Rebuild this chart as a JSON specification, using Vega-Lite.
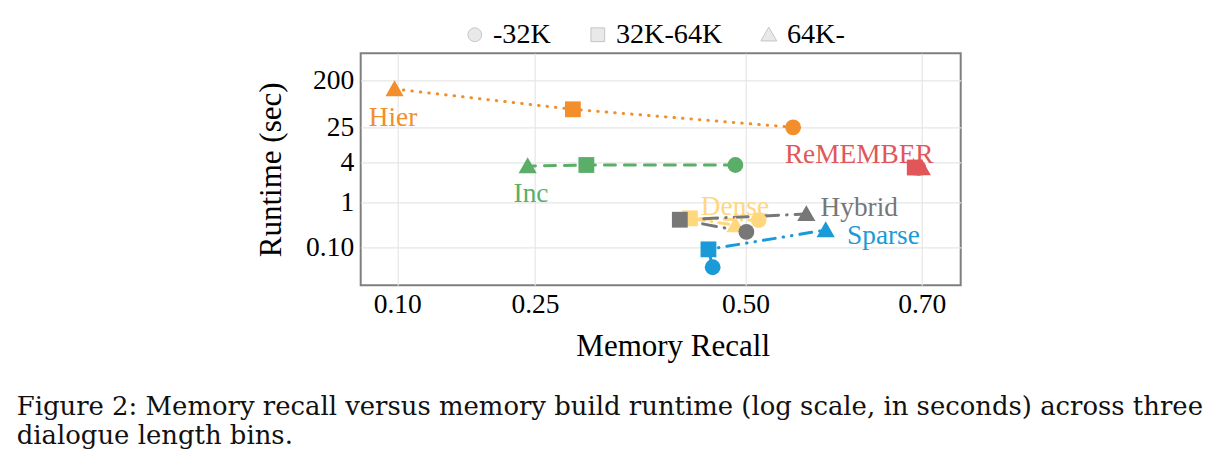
{
  "$schema": "https://vega.github.io/schema/vega-lite/v6.json",
  "width": 600,
  "height": 232,
  "autosize": {"type": "none"},
  "padding": {"left": 360.7, "top": 53.3, "right": 258.3, "bottom": 185.7},
  "background": "white",
  "datasets": {
    "points": [
      {"method": "Hier", "bin": "-32K", "recall": 0.554, "runtime": 25.0},
      {"method": "Hier", "bin": "32K-64K", "recall": 0.295, "runtime": 55.8},
      {"method": "Hier", "bin": "64K-", "recall": 0.097, "runtime": 138},
      {"method": "Inc", "bin": "-32K", "recall": 0.488, "runtime": 3.69},
      {"method": "Inc", "bin": "32K-64K", "recall": 0.311, "runtime": 3.69},
      {"method": "Inc", "bin": "64K-", "recall": 0.242, "runtime": 3.56},
      {"method": "ReMEMBER", "bin": "-32K", "recall": 0.696, "runtime": 3.35},
      {"method": "ReMEMBER", "bin": "32K-64K", "recall": 0.692, "runtime": 3.38},
      {"method": "ReMEMBER", "bin": "64K-", "recall": 0.700, "runtime": 3.32},
      {"method": "Dense", "bin": "-32K", "recall": 0.515, "runtime": 0.40},
      {"method": "Dense", "bin": "32K-64K", "recall": 0.434, "runtime": 0.44},
      {"method": "Dense", "bin": "64K-", "recall": 0.488, "runtime": 0.31},
      {"method": "Hybrid", "bin": "-32K", "recall": 0.501, "runtime": 0.22},
      {"method": "Hybrid", "bin": "32K-64K", "recall": 0.422, "runtime": 0.41},
      {"method": "Hybrid", "bin": "64K-", "recall": 0.569, "runtime": 0.55},
      {"method": "Sparse", "bin": "-32K", "recall": 0.461, "runtime": 0.036},
      {"method": "Sparse", "bin": "32K-64K", "recall": 0.456, "runtime": 0.090},
      {"method": "Sparse", "bin": "64K-", "recall": 0.591, "runtime": 0.242}
    ],
    "labels": [
      {"method": "Hier", "recall": 0.0953, "runtime": 37.9},
      {"method": "Inc", "recall": 0.2456, "runtime": 1.34},
      {"method": "ReMEMBER", "recall": 0.629, "runtime": 5.96},
      {"method": "Dense", "recall": 0.4875, "runtime": 0.787},
      {"method": "Hybrid", "recall": 0.629, "runtime": 0.747},
      {"method": "Sparse", "recall": 0.6565, "runtime": 0.178}
    ]
  },
  "title": {
    "text": ["Figure 2: Memory recall versus memory build runtime (log scale, in seconds) across three", "dialogue length bins."],
    "orient": "bottom",
    "anchor": "start",
    "frame": "group",
    "dx": -344,
    "offset": 33,
    "font": "DejaVu Serif",
    "fontSize": 25.9,
    "fontWeight": "normal",
    "lineHeight": 29,
    "color": "#111111"
  },
  "encoding": {
    "x": {
      "field": "recall", "type": "quantitative", "title": "Memory Recall",
      "scale": {"domain": [0.0601, 0.1, 0.25, 0.5, 0.7, 0.7441], "range": [0, 36.6, 174.3, 384.8, 561.1, 600], "nice": false, "zero": false},
      "axis": {"values": [0.1, 0.25, 0.5, 0.7], "format": ".2f", "titleX": 312}
    },
    "y": {
      "field": "runtime", "type": "quantitative", "title": "Runtime (sec)",
      "scale": {"type": "log", "domain": [0.0143, 0.1, 1, 4, 25, 200, 679], "range": [232, 194, 149, 109.4, 74, 27.4, 0], "nice": false, "zero": false},
      "axis": {"values": [0.1, 1, 4, 25, 200], "labelExpr": "datum.value < 1 ? format(datum.value, '.2f') : format(datum.value, 'd')"}
    },
    "color": {
      "field": "method", "type": "nominal", "legend": null,
      "scale": {"domain": ["Hier", "Inc", "ReMEMBER", "Dense", "Hybrid", "Sparse"], "range": ["#F28E2B", "#5AAE68", "#E15759", "#FFD77E", "#777777", "#1A9BD7"]}
    }
  },
  "layer": [
    {
      "data": {"name": "labels"},
      "mark": {"type": "text", "font": "Liberation Serif", "fontSize": 27.3, "align": "center", "baseline": "middle"},
      "encoding": {"text": {"field": "method"}}
    },
    {
      "data": {"name": "points"},
      "mark": {"type": "line", "strokeWidth": 3, "strokeCap": "round"},
      "encoding": {
        "detail": {"field": "method"},
        "order": {"field": "bin", "type": "ordinal"},
        "strokeDash": {
          "field": "method", "type": "nominal", "legend": null,
          "scale": {"domain": ["Hier", "Inc", "ReMEMBER", "Dense", "Hybrid", "Sparse"], "range": [[0.5, 8], [11, 9], [1, 0], [10, 7, 0.5, 7], [14, 8, 0.5, 8], [12, 8, 0.5, 8, 0.5, 8]]}
        }
      }
    },
    {
      "data": {"name": "points"},
      "mark": {"type": "point", "filled": true, "size": 250, "strokeWidth": 0},
      "encoding": {
        "shape": {
          "field": "bin", "type": "nominal",
          "scale": {"domain": ["-32K", "32K-64K", "64K-"], "range": ["circle", "square", "M0,-1.1L1.15,0.9L-1.15,0.9Z"]},
          "legend": {
            "orient": "none", "legendX": 100, "legendY": -33, "direction": "horizontal", "title": null,
            "padding": 0, "symbolSize": 190, "symbolFillColor": "#E0E0E0", "symbolStrokeColor": "#ADADAD",
            "symbolStrokeWidth": 1, "labelOffset": 4, "columnPadding": 32,
            "labelFont": "Liberation Serif", "labelFontSize": 28.2, "labelColor": "#000000"
          }
        },
        "opacity": {
          "field": "method", "type": "nominal", "legend": null,
          "scale": {"domain": ["Hier", "Inc", "ReMEMBER", "Dense", "Hybrid", "Sparse"], "range": [1, 1, 0.8, 0.85, 1, 1]}
        }
      }
    }
  ],
  "config": {
    "font": "Liberation Serif",
    "view": {"stroke": "#7F7F7F", "strokeWidth": 2},
    "axis": {
      "domain": false, "ticks": false, "tickSize": 0,
      "grid": true, "gridColor": "#E6E6E6", "gridWidth": 1.2,
      "labelFont": "Liberation Serif", "labelFontSize": 27.5, "labelColor": "#000000",
      "titleFont": "Liberation Serif", "titleFontSize": 31, "titleFontWeight": "normal", "titleColor": "#000000"
    },
    "axisX": {"labelPadding": 5, "titlePadding": 14},
    "axisY": {"labelPadding": 7, "titlePadding": 18}
  }
}
